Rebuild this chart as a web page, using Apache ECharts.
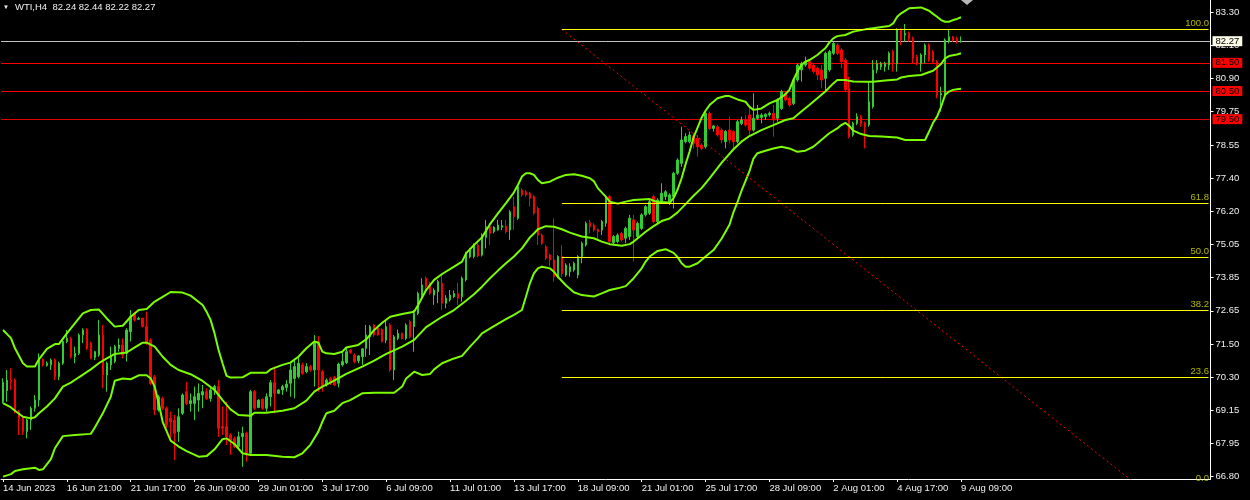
<!DOCTYPE html>
<html><head><meta charset="utf-8">
<script src="https://cdn.jsdelivr.net/npm/echarts@6/dist/echarts.min.js"></script>
<style>html,body{margin:0;padding:0;background:#000;}#c{width:1250px;height:500px;}</style>
</head><body><div id="c"></div>
<script>
const symbolName = 'WTI,H4';
const xTickLabels = ['14 Jun 2023','16 Jun 21:00','21 Jun 17:00','26 Jun 09:00','29 Jun 01:00','3 Jul 17:00','6 Jul 09:00','11 Jul 01:00','13 Jul 17:00','18 Jul 09:00','21 Jul 01:00','25 Jul 17:00','28 Jul 09:00','2 Aug 01:00','4 Aug 17:00','9 Aug 09:00'];
const xTickEvery = 16;
const totalSlots = 303;
const yTickValues = [66.80,67.9786,69.1571,70.3357,71.5143,72.6929,73.8714,75.05,76.2286,77.4071,78.5857,79.7643,80.9429,82.1214,83.30];
const yTickLabels = ['66.80','67.95','69.15','70.30','71.50','72.65','73.85','75.05','76.20','77.40','78.55','79.75','80.90','82.10','83.30'];
const yMin = 66.717, yMax = 83.733;

const opens = [
69.46,69.85,70.23,70.23,69.11,68.87,68.40,68.81,69.23,69.52,
70.96,70.75,70.77,70.94,70.35,70.83,71.60,71.71,71.06,71.18,
71.83,72.03,71.54,71.03,71.12,71.83,70.41,70.77,70.89,71.36,
71.48,71.18,71.95,72.60,72.39,72.42,72.13,71.65,70.35,69.17,
69.58,69.23,68.87,68.81,68.40,69.05,69.82,69.40,69.40,69.52,
69.70,69.82,69.58,69.88,70.00,68.58,68.58,68.28,68.16,67.87,
68.22,68.34,67.63,69.82,69.26,69.55,69.23,69.64,70.14,69.76,
69.88,69.97,70.12,70.29,70.35,70.77,70.53,70.71,70.59,71.60,
70.53,70.09,70.29,70.33,70.12,70.77,70.85,71.30,71.12,70.92,
71.06,71.36,71.77,72.19,72.07,72.03,71.65,72.19,70.59,71.71,
71.89,71.71,72.31,72.13,72.60,73.25,73.85,73.67,73.25,73.37,
73.67,72.96,73.08,73.19,73.31,73.19,73.79,74.61,74.62,75.03,
74.67,75.30,75.68,75.50,75.56,75.66,75.70,75.56,76.39,75.98,
76.98,76.92,76.87,76.75,76.33,75.38,74.97,74.67,74.50,73.90,
74.62,73.96,74.08,74.14,73.96,74.62,75.03,75.82,75.74,75.58,
75.56,75.80,76.75,75.11,75.15,75.44,75.27,75.33,75.92,75.33,
75.62,76.10,76.16,76.75,75.86,76.57,76.75,76.51,76.75,77.58,
77.93,78.70,78.70,78.90,78.82,78.58,78.52,79.71,79.17,79.23,
79.11,78.70,79.11,79.06,78.70,79.35,79.47,79.65,79.11,79.53,
79.56,79.59,79.65,79.71,79.53,79.88,80.42,80.24,80.06,80.89,
81.25,81.42,81.54,81.42,81.31,81.25,80.95,81.25,81.84,82.13,
81.96,81.60,80.59,78.94,79.35,79.59,79.37,79.29,79.94,81.25,
81.36,81.36,81.42,81.90,81.48,82.67,82.49,82.55,82.37,81.72,
81.48,81.78,82.13,81.90,81.54,80.36,80.36,82.25,82.43,82.37,82.24];
const highs = [
70.29,70.59,70.65,70.29,69.17,68.99,68.87,69.29,69.70,71.18,
71.00,70.89,71.00,71.00,70.89,71.65,72.01,71.77,71.42,71.89,
72.07,72.07,71.60,71.27,72.37,72.19,70.89,71.42,71.48,71.71,
71.71,72.07,72.72,72.66,72.48,72.45,72.66,71.71,70.41,69.70,
69.64,69.29,69.11,68.99,69.23,69.76,70.17,69.76,70.00,70.11,
70.06,69.94,70.00,70.06,70.23,69.29,69.46,68.34,68.22,68.40,
68.58,68.40,69.88,69.88,69.55,69.58,69.76,70.23,70.71,69.91,
70.06,70.23,70.83,71.00,71.06,70.85,70.83,70.77,71.83,71.80,
70.59,70.29,70.35,70.38,70.85,71.21,71.42,71.32,71.18,71.12,
71.36,72.19,72.19,72.22,72.10,72.07,72.37,72.25,71.83,72.03,
71.92,72.25,72.37,72.72,73.37,73.85,73.91,73.73,73.49,73.79,
74.02,73.25,73.43,73.41,73.69,73.91,74.79,74.91,75.09,75.09,
75.44,75.92,75.80,75.70,75.92,75.92,75.92,76.27,76.75,77.16,
77.04,76.98,76.92,76.81,76.39,75.44,75.03,74.73,75.98,74.67,
75.03,74.38,74.38,74.44,74.67,75.15,75.86,75.92,75.80,75.62,
75.92,76.81,76.81,75.38,75.44,75.50,75.68,76.10,76.10,75.86,
76.16,76.45,76.63,76.81,76.69,77.22,76.98,76.87,77.63,78.11,
79.23,79.00,79.06,79.00,78.94,78.64,79.77,79.77,79.29,79.29,
79.17,79.11,79.59,79.11,79.47,79.59,79.65,79.94,80.42,80.00,
79.71,79.71,79.77,80.00,80.24,80.54,80.48,80.30,80.95,81.48,
81.54,81.72,81.60,81.48,81.36,81.42,81.90,81.96,82.25,82.19,
82.02,81.66,81.01,79.41,79.71,79.65,79.41,80.83,81.60,81.60,
81.54,81.54,81.90,81.96,82.73,82.73,82.88,82.61,82.43,81.78,
81.84,82.19,82.19,81.96,81.60,80.65,82.37,82.67,82.45,82.43,82.44];
const lows = [
69.40,69.46,69.88,69.05,68.28,68.28,68.16,68.46,69.11,69.29,
70.71,70.71,70.59,70.23,70.23,70.77,71.54,71.00,70.83,71.12,
71.54,71.30,70.97,70.94,71.06,69.94,69.82,70.59,70.83,71.24,
71.00,70.89,71.60,72.31,72.37,72.10,71.48,70.06,68.99,69.11,
69.17,68.52,68.10,67.39,68.04,68.99,69.35,69.11,68.81,69.11,
69.23,69.52,69.46,69.70,68.22,68.28,67.92,67.57,67.81,67.81,
67.15,67.33,67.57,69.17,69.23,69.17,69.11,69.29,69.05,69.73,
69.70,69.82,69.64,69.58,70.29,70.41,70.47,70.53,70.00,69.82,
69.82,70.00,70.06,70.02,69.97,70.71,70.80,71.16,70.83,70.83,
70.77,71.06,71.12,71.77,71.80,71.56,71.54,70.53,70.23,71.65,
71.68,71.65,71.71,71.24,72.54,73.19,73.43,73.25,72.90,72.96,
72.72,72.78,73.02,73.14,72.90,73.02,73.73,74.56,74.56,74.59,
74.62,74.91,75.03,75.44,75.54,75.56,75.44,75.21,75.56,75.92,
76.75,76.75,76.39,76.10,75.03,75.03,74.50,74.26,73.73,73.85,
73.90,73.90,73.90,74.08,73.85,74.38,74.97,75.44,75.50,75.21,
75.38,75.68,75.09,75.03,75.09,75.15,75.09,75.21,74.44,75.27,
75.56,76.04,76.10,75.80,75.80,76.51,76.63,76.45,76.33,77.52,
77.81,78.64,78.64,78.46,78.17,78.40,78.46,79.11,79.06,78.88,
78.64,78.46,78.64,78.40,78.64,79.29,79.23,78.88,79.06,79.47,
79.35,79.47,79.59,78.88,79.41,79.83,80.12,79.94,80.00,80.83,
80.83,81.36,81.25,81.13,80.89,80.60,80.48,81.19,81.78,81.78,
81.31,80.48,78.82,78.88,79.29,79.23,78.46,79.23,79.88,81.13,
81.25,81.19,81.25,81.19,81.19,82.13,82.25,82.25,81.48,81.42,
81.19,81.48,81.54,81.48,80.24,79.77,80.30,82.19,82.25,82.19,82.22];
const closes = [
70.15,70.23,70.17,69.11,68.87,68.40,68.81,69.23,69.52,70.94,
70.77,70.83,70.94,70.35,70.83,71.60,71.71,71.06,71.18,71.83,
72.01,71.36,71.00,71.24,71.83,70.41,70.83,71.06,71.42,71.48,
71.12,72.01,72.48,72.37,72.42,72.13,71.54,70.11,69.17,69.64,
69.23,68.64,68.75,68.34,68.93,69.70,69.40,69.50,69.64,69.76,
69.82,69.58,69.88,70.00,68.52,68.52,68.22,68.10,67.87,68.22,
68.34,67.63,69.82,69.23,69.52,69.23,69.64,70.14,69.76,69.88,
70.00,70.09,70.59,70.71,70.83,70.47,70.71,70.59,71.60,70.59,
70.00,70.23,70.12,70.06,70.80,70.89,71.24,71.21,70.89,71.09,
71.34,71.83,72.13,71.83,71.83,71.60,72.13,70.59,71.77,71.89,
71.71,72.19,71.77,72.60,73.31,73.61,73.55,73.31,73.43,73.73,
72.96,73.14,73.25,73.31,73.14,73.85,74.73,74.85,75.03,74.64,
75.38,75.68,75.44,75.66,75.74,75.72,75.50,76.21,76.04,77.10,
76.81,76.81,76.69,76.16,75.38,75.09,74.56,74.50,73.90,74.62,
74.02,74.32,74.26,74.38,74.62,75.09,75.80,75.68,75.56,75.50,
75.86,76.69,75.15,75.33,75.38,75.21,75.62,75.98,75.56,75.80,
76.10,76.39,76.57,75.86,76.63,76.87,76.92,76.81,77.58,78.05,
78.76,78.88,78.94,78.64,78.52,78.46,79.71,79.17,79.26,78.94,
78.76,79.06,78.76,78.70,79.41,79.47,79.29,79.11,79.53,79.65,
79.65,79.67,79.71,79.47,80.18,80.48,80.18,80.00,80.89,81.42,
81.48,81.54,81.31,81.19,81.07,80.89,81.84,81.90,82.19,81.84,
81.54,80.54,78.88,79.35,79.59,79.35,79.23,80.12,81.25,81.48,
81.48,81.48,81.84,81.48,82.69,82.31,82.55,82.37,81.66,81.48,
81.78,82.13,81.60,81.54,80.36,80.42,82.31,82.43,82.31,82.25,82.27];

// Bollinger bands at selected bars
const upperBars = [0,2,3,5,6,8,9,11,13,14,16,17,20,22,24,26,28,30,32,34,36,38,40,42,45,47,50,51,52,53,54,55,56,57,60,62,66,67,70,72,74,76,78,79,80,81,83,85,86,89,91,93,95,97,100,103,104,106,108,110,113,115,116,118,120,122,124,126,128,129,130,131,132,133,134,135,137,139,141,143,145,147,148,149,150,151,152,154,156,158,160,162,163,164,166,167,168,169,170,171,172,173,174,175,176,177,179,181,182,184,186,187,188,190,192,194,196,197,198,199,200,201,202,204,205,206,207,208,209,211,213,216,218,221,222,223,224,225,226,227,230,232,233,234,235,236,237,238,239,240];
const upperVals = [72.01,71.72,71.36,70.83,70.71,70.71,70.97,71.34,71.51,71.51,71.89,72.07,72.60,72.72,72.74,72.42,72.13,72.16,72.48,72.72,72.76,73.02,73.19,73.36,73.34,73.23,72.90,72.66,72.37,71.89,71.30,70.83,70.38,70.32,70.33,70.49,70.49,70.61,70.77,70.85,71.06,71.36,71.60,71.56,71.24,71.18,71.16,71.24,71.39,71.48,71.68,72.01,72.27,72.48,72.58,72.66,72.90,73.43,73.79,74.00,74.26,74.44,74.73,75.03,75.30,75.77,76.15,76.52,76.90,77.16,77.46,77.58,77.58,77.52,77.34,77.22,77.28,77.42,77.52,77.54,77.49,77.40,77.30,77.05,76.90,76.75,76.57,76.50,76.57,76.63,76.65,76.66,76.60,76.55,76.55,76.52,76.70,77.00,77.40,77.90,78.35,78.85,79.20,79.55,79.80,80.00,80.24,80.32,80.32,80.20,80.12,79.94,79.83,79.88,80.06,80.18,80.38,80.54,80.89,81.19,81.42,81.54,81.60,81.78,81.90,82.02,82.22,82.37,82.45,82.49,82.61,82.69,82.73,82.79,82.81,82.90,83.14,83.26,83.35,83.44,83.47,83.35,83.24,83.14,83.02,82.96,82.96,83.02,83.06,83.12];
const midBars = [0,2,3,5,7,8,9,11,13,15,17,19,22,24,26,28,31,33,35,36,38,40,42,44,47,50,53,55,57,59,62,63,66,70,73,76,78,80,82,84,86,90,93,96,100,103,106,110,113,116,118,120,122,124,126,128,130,132,133,134,136,138,140,142,145,148,150,152,155,157,158,159,161,163,165,167,169,171,173,175,177,180,183,185,187,190,193,196,198,200,202,204,206,208,209,211,213,216,218,221,224,225,227,230,233,235,236,237,239,240];
const midVals = [69.41,69.26,69.14,68.93,68.87,68.91,69.05,69.29,69.58,70.00,70.14,70.33,70.61,70.83,71.00,71.16,71.21,71.39,71.56,71.56,71.42,71.06,70.77,70.59,70.44,70.20,69.88,69.52,69.19,68.99,68.96,69.07,69.07,69.14,69.23,69.50,69.82,70.00,70.14,70.29,70.45,70.71,70.92,71.16,71.42,71.66,72.11,72.48,72.72,73.05,73.28,73.55,73.85,74.12,74.38,74.62,74.91,75.30,75.44,75.59,75.70,75.68,75.59,75.47,75.33,75.27,75.15,75.06,75.00,75.06,75.15,75.27,75.50,75.70,75.88,75.97,76.19,76.48,76.78,77.05,77.40,77.95,78.43,78.70,78.90,79.11,79.29,79.47,79.53,79.77,80.00,80.24,80.48,80.77,80.89,80.89,80.84,80.83,80.83,80.87,80.91,80.98,81.03,81.07,81.22,81.46,81.66,81.74,81.80,81.84];
const lowerBars = [0,2,3,5,7,8,9,10,12,13,15,18,22,23,25,27,28,30,32,34,36,37,38,39,40,42,44,46,49,51,53,55,56,58,60,62,66,70,73,75,77,79,80,81,83,85,87,90,93,98,100,101,103,105,107,108,110,113,115,117,119,120,123,126,128,130,131,132,133,134,135,137,138,139,141,143,145,148,150,152,154,156,158,160,161,162,164,166,168,169,170,171,172,174,176,178,180,182,183,184,185,186,187,188,189,191,193,195,197,199,201,203,205,207,209,210,211,212,213,215,217,220,224,226,231,232,233,234,235,236,237,238,239,240];
const lowerVals = [66.80,66.89,67.00,67.06,67.10,67.12,67.04,67.06,67.42,67.81,68.24,68.28,68.32,68.55,69.05,69.64,70.21,70.29,70.26,70.40,70.40,70.29,70.00,69.41,68.75,68.08,67.87,67.71,67.51,67.53,67.77,68.13,68.16,67.96,67.63,67.57,67.57,67.51,67.49,67.63,67.93,68.40,68.75,69.05,69.14,69.41,69.52,69.76,69.78,69.78,70.00,70.29,70.53,70.41,70.45,70.61,70.83,71.00,71.09,71.42,71.72,71.89,72.15,72.40,72.55,72.72,73.19,73.67,74.02,74.20,74.26,74.20,74.08,73.90,73.60,73.35,73.25,73.20,73.31,73.43,73.49,73.57,73.85,74.20,74.44,74.62,74.82,74.88,74.75,74.60,74.38,74.26,74.26,74.38,74.62,74.85,75.25,75.75,76.20,76.55,76.95,77.30,77.65,78.10,78.29,78.38,78.46,78.52,78.46,78.34,78.38,78.52,78.76,79.00,79.17,79.29,79.37,79.26,79.09,78.97,78.90,78.88,78.85,78.76,78.76,79.06,79.37,79.59,79.94,80.36,80.48,80.54,80.56,80.58];

const levelLines = [79.50, 80.50, 81.50];
const levelColors = ['#e00000', '#ff0000', '#ff0000'];
const bidColor = '#c0c0c0';
const fibLevels = [0, 23.6, 38.2, 50, 61.8, 100];
const fibLow = 66.52, fibHigh = 82.69;
const fibStartBar = 140, fibEndBar = 284;

const last = opens.length - 1;
const bidPrice = closes[last];
const fibPrice = l => fibLow + (fibHigh - fibLow) * l / 100;
const cats = Array.from({length: totalSlots}, (_, i) => String(i));
const candleData = opens.map((o, i) => [o, closes[i], lows[i], highs[i]]);
const pairs = (b, v) => b.map((x, i) => [x, v[i]]);
const FONT = 'Liberation Sans';
const tickShown = (i) => i % xTickEvery === 0 && i / xTickEvery < xTickLabels.length;

// horizontal level lines drawn as split lines of a hidden price axis (crisp 1px)
const hLineValues = levelLines.concat([bidPrice]).sort((a, b) => a - b);
const hLineColors = hLineValues.map(v => v === bidPrice ? bidColor : levelColors[levelLines.indexOf(v)]);

const tag = (bg) => ({show: true, position: 'end', distance: 2, formatter: p => p.value.toFixed(2),
  color: '#000', backgroundColor: bg, padding: [0, 3, 0, 3], fontSize: 9.5, fontFamily: FONT, lineHeight: 10, opacity: 1});

const markData = [];
fibLevels.forEach(l => {
  const p = fibPrice(l);
  if (p >= yMin) markData.push([{coord: [fibStartBar, p], lineStyle: {color: '#ffff00', width: 1, type: 'solid'}, label: {show: false}}, {coord: [totalSlots - 1, p]}]);
});
levelLines.forEach(v => markData.push({yAxis: v, lineStyle: {width: 0, type: 'solid'}, label: tag('#ff0000')}));
markData.push({yAxis: bidPrice, lineStyle: {width: 0, type: 'solid'}, label: tag('#fbfbe6')});

const bandStyle = {color: '#7cfc00', width: 2};
const option = {
  backgroundColor: '#000',
  animation: false,
  title: {
    text: '{t|▼}' + symbolName + '  ' + [opens[last], highs[last], lows[last], closes[last]].map(v => v.toFixed(2)).join(' '),
    left: 3, top: 2, padding: 0,
    textStyle: {color: '#f0f0f0', fontSize: 9.5, fontFamily: FONT, fontWeight: 'normal',
      rich: {t: {fontSize: 6, color: '#f0f0f0', padding: [0, 6, 0, 0]}}}
  },
  grid: {left: -1.5, right: 39.5, top: 0, bottom: 21},
  xAxis: {
    type: 'category', data: cats, boundaryGap: true,
    axisLine: {show: true, lineStyle: {color: '#ffffff', width: 1}},
    axisTick: {show: true, interval: tickShown, alignWithLabel: true, length: 3, lineStyle: {color: '#ffffff'}},
    axisLabel: {interval: tickShown, formatter: (v, i) => xTickLabels[i / xTickEvery] || '', color: '#f0f0f0',
      fontSize: 9.5, fontFamily: FONT, align: 'left', margin: 4},
    splitLine: {show: false}
  },
  yAxis: [{
    type: 'value', position: 'right', min: yMin, max: yMax,
    axisLine: {show: true, lineStyle: {color: '#ffffff', width: 1}},
    axisTick: {show: true, length: 3, customValues: yTickValues, lineStyle: {color: '#ffffff'}},
    axisLabel: {customValues: yTickValues, color: '#f0f0f0', fontSize: 9.5, fontFamily: FONT, margin: 5,
      formatter: v => {let k = 0, d = 1e9; yTickValues.forEach((t, i) => {if (Math.abs(t - v) < d) {d = Math.abs(t - v); k = i;}}); return yTickLabels[k];}},
    splitLine: {show: false}
  }, {
    type: 'value', position: 'right', min: yMin, max: yMax,
    axisLine: {show: false}, axisLabel: {show: false, customValues: hLineValues},
    axisTick: {show: false, customValues: hLineValues},
    splitLine: {show: true, lineStyle: {color: hLineColors, width: 1, type: 'solid'}}
  }],
  graphic: [{type: 'polygon', shape: {points: [[961, 0], [973, 0], [967, 5]]}, style: {fill: '#b8b8b8'}, z: 100}],
  series: [
    {type: 'candlestick', name: 'WTI', data: candleData, barWidth: 2, z: 2,
      itemStyle: {color: '#32cd32', color0: '#ff0000', borderColor: '#32cd32', borderColor0: '#ff0000', borderWidth: 1}},
    {type: 'line', name: 'BB upper', data: pairs(upperBars, upperVals), showSymbol: false, symbol: 'none', lineStyle: bandStyle, z: 3},
    {type: 'line', name: 'BB middle', data: pairs(midBars, midVals), showSymbol: false, symbol: 'none', lineStyle: bandStyle, z: 3},
    {type: 'line', name: 'BB lower', data: pairs(lowerBars, lowerVals), showSymbol: false, symbol: 'none', lineStyle: bandStyle, z: 3},
    {type: 'line', name: 'Fibo', data: [[fibStartBar, fibHigh], [fibEndBar, fibLow]], showSymbol: false, symbol: 'none',
      lineStyle: {color: '#ff0000', width: 1, type: [2, 3]}, z: 4,
      markLine: {silent: true, symbol: ['none', 'none'], animation: false, data: markData}},
    {type: 'scatter', name: 'Fibo labels', clip: false, symbolSize: 1, itemStyle: {color: 'rgba(0,0,0,0)'}, z: 5,
      data: fibLevels.map(l => [totalSlots - 1, fibPrice(l)]),
      label: {show: true, position: 'left', distance: 0, offset: [1, -1], verticalAlign: 'bottom',
        formatter: p => fibLevels[p.dataIndex].toFixed(1), color: '#d8e000', fontSize: 9.5, fontFamily: FONT}}
  ]
};
const chart = echarts.init(document.getElementById('c'), null, {renderer: 'canvas'});
chart.setOption(option);
</script></body></html>
